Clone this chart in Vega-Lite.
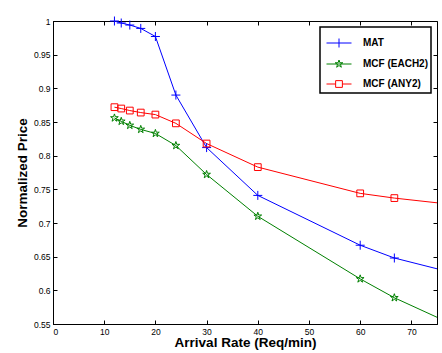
{
  "$schema": "https://vega.github.io/schema/vega-lite/v6.json",
  "width": 384,
  "height": 303,
  "autosize": {"type": "none"},
  "padding": {"left": 53, "top": 21, "right": 5, "bottom": 29},
  "background": "white",
  "config": {
    "view": {"stroke": "black", "strokeWidth": 1},
    "font": "Liberation Sans",
    "axis": {
      "labelFont": "Liberation Sans", "labelFontSize": 8.5, "labelColor": "black",
      "tickColor": "black", "domainColor": "black", "domainWidth": 1, "tickWidth": 1,
      "titleFont": "Liberation Sans", "titleFontWeight": "bold", "titleFontSize": 13.5, "titleColor": "black",
      "grid": false, "tickSize": -4
    },
    "legend": {
      "orient": "none", "legendX": 267, "legendY": 6,
      "strokeColor": "black", "fillColor": "white", "padding": 3,
      "labelFont": "Liberation Sans", "labelFontWeight": "bold", "labelFontSize": 10, "labelColor": "black",
      "symbolSize": 625, "symbolOffset": 3, "labelOffset": 11, "rowPadding": 1, "symbolStrokeWidth": 1
    }
  },
  "data": {"values": [
    {"s": "MAT", "x": 12, "y": 1.0},
    {"s": "MAT", "x": 13.33, "y": 0.997},
    {"s": "MAT", "x": 15, "y": 0.994},
    {"s": "MAT", "x": 17.14, "y": 0.989},
    {"s": "MAT", "x": 20, "y": 0.977},
    {"s": "MAT", "x": 24, "y": 0.890},
    {"s": "MAT", "x": 30, "y": 0.812},
    {"s": "MAT", "x": 40, "y": 0.741},
    {"s": "MAT", "x": 60, "y": 0.667},
    {"s": "MAT", "x": 66.67, "y": 0.648},
    {"s": "MAT", "x": 75, "y": 0.632},
    {"s": "MCF (EACH2)", "x": 12, "y": 0.856},
    {"s": "MCF (EACH2)", "x": 13.33, "y": 0.851},
    {"s": "MCF (EACH2)", "x": 15, "y": 0.845},
    {"s": "MCF (EACH2)", "x": 17.14, "y": 0.839},
    {"s": "MCF (EACH2)", "x": 20, "y": 0.833},
    {"s": "MCF (EACH2)", "x": 24, "y": 0.815},
    {"s": "MCF (EACH2)", "x": 30, "y": 0.772},
    {"s": "MCF (EACH2)", "x": 40, "y": 0.710},
    {"s": "MCF (EACH2)", "x": 60, "y": 0.617},
    {"s": "MCF (EACH2)", "x": 66.67, "y": 0.589},
    {"s": "MCF (EACH2)", "x": 75, "y": 0.560},
    {"s": "MCF (ANY2)", "x": 12, "y": 0.872},
    {"s": "MCF (ANY2)", "x": 13.33, "y": 0.870},
    {"s": "MCF (ANY2)", "x": 15, "y": 0.867},
    {"s": "MCF (ANY2)", "x": 17.14, "y": 0.864},
    {"s": "MCF (ANY2)", "x": 20, "y": 0.861},
    {"s": "MCF (ANY2)", "x": 24, "y": 0.848},
    {"s": "MCF (ANY2)", "x": 30, "y": 0.818},
    {"s": "MCF (ANY2)", "x": 40, "y": 0.783},
    {"s": "MCF (ANY2)", "x": 60, "y": 0.744},
    {"s": "MCF (ANY2)", "x": 66.67, "y": 0.737},
    {"s": "MCF (ANY2)", "x": 75, "y": 0.730}
  ]},
  "layer": [
    {
      "mark": {"type": "line", "strokeWidth": 1, "clip": true},
      "encoding": {
        "x": {"field": "x", "type": "quantitative", "scale": {"domain": [0, 75], "nice": false},
          "axis": {"orient": "bottom", "values": [0, 10, 20, 30, 40, 50, 60, 70], "labelPadding": 7, "title": "Arrival Rate (Req/min)", "titlePadding": 0}},
        "y": {"field": "y", "type": "quantitative", "scale": {"domain": [0.55, 1], "nice": false, "zero": false},
          "axis": {"orient": "left", "values": [0.55, 0.6, 0.65, 0.7, 0.75, 0.8, 0.85, 0.9, 0.95, 1], "format": ".2~f", "labelPadding": 7, "title": "Normalized Price", "titlePadding": 4}},
        "color": {"field": "s", "type": "nominal",
          "scale": {"domain": ["MAT", "MCF (EACH2)", "MCF (ANY2)"], "range": ["#0000ff", "#008000", "#ff0000"]},
          "legend": {"title": null,
            "encode": {
              "legend": {"update": {"strokeWidth": {"value": 1.5}}},
              "symbols": {"update": {
                "shape": {"signal": "datum.value === 'MAT' ? 'M-1,0L1,0M0,-0.36L0,0.36' : datum.value === 'MCF (EACH2)' ? 'M-1,0L1,0M0,-0.32L0.0718,-0.0989L0.3044,-0.0989L0.1163,0.0378L0.1881,0.2589L0,0.1222L-0.1881,0.2589L-0.1163,0.0378L-0.3044,-0.0989L-0.0718,-0.0989Z' : 'M-1,0L-0.27,0M0.27,0L1,0M-0.27,-0.27L0.27,-0.27L0.27,0.27L-0.27,0.27Z'"},
                "fill": {"value": "transparent"},
                "stroke": {"scale": "color", "field": "value"},
                "strokeWidth": {"value": 1}
              }}}}}
      }
    },
    {
      "transform": [{"filter": "datum.x < 75"}],
      "mark": {"type": "point", "filled": false, "strokeWidth": 1, "size": 81, "opacity": 1},
      "encoding": {
        "x": {"field": "x", "type": "quantitative",
          "axis": {"orient": "top", "values": [0, 10, 20, 30, 40, 50, 60, 70], "labels": false, "domain": false, "title": null}},
        "y": {"field": "y", "type": "quantitative",
          "axis": {"orient": "right", "values": [0.55, 0.6, 0.65, 0.7, 0.75, 0.8, 0.85, 0.9, 0.95, 1], "labels": false, "domain": false, "title": null}},
        "color": {"field": "s", "type": "nominal"},
        "shape": {"field": "s", "type": "nominal",
          "scale": {"domain": ["MCF (ANY2)", "MAT", "MCF (EACH2)"],
            "range": ["M-0.75,-0.75L0.75,-0.75L0.75,0.75L-0.75,0.75Z",
                      "M-1,0L1,0M0,-1L0,1",
                      "M0,-0.9L0.202,-0.278L0.856,-0.278L0.327,0.106L0.529,0.728L0,0.344L-0.529,0.728L-0.327,0.106L-0.856,-0.278L-0.202,-0.278Z"]},
          "legend": null}
      }
    }
  ]
}
